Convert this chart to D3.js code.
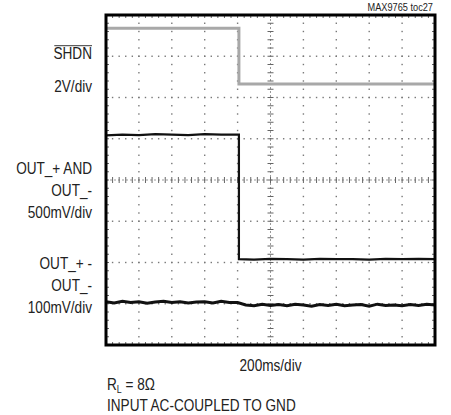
<!DOCTYPE html>
<html><head><meta charset="utf-8">
<script src="https://cdn.jsdelivr.net/npm/d3@7"></script>
<style>
body{margin:0;background:#fff;}
text{font-family:"Liberation Sans",Arial,Helvetica,sans-serif;fill:#222;}
</style></head><body>
<svg id="c" width="451" height="415"></svg>
<script>
// Values in scope divisions (x: 0..10, y: 0..8 from bottom)
const shdnT = [0, 4.04, 4.04, 10];
const shdnV = [7.68, 7.68, 6.33, 6.33];
const outT = [0, 0.5, 1, 1.5, 2, 2.5, 3, 3.5, 4.04, 4.04, 4.5, 5, 5.5, 6, 6.5, 7, 7.5, 8, 8.5, 9, 9.5, 10];
const outV = [5.08, 5.10, 5.09, 5.11, 5.10, 5.09, 5.11, 5.10, 5.10, 2.08, 2.07, 2.09, 2.08, 2.07, 2.09, 2.08, 2.08, 2.07, 2.09, 2.08, 2.09, 2.08];
const diffT = [0,0.25,0.5,0.75,1,1.25,1.5,1.75,2,2.25,2.5,2.75,3,3.25,3.5,3.75,4,4.25,4.5,4.75,5,5.25,5.5,5.75,6,6.25,6.5,6.75,7,7.25,7.5,7.75,8,8.25,8.5,8.75,9,9.25,9.5,9.75,10];
const diffV = [1.05,1.02,1.06,1.03,1.05,1.01,1.04,1.06,1.03,1.05,1.02,1.04,1.05,1.02,1.06,1.03,1.03,0.97,0.95,0.99,0.96,0.98,0.95,0.99,0.97,0.94,0.98,0.96,0.99,0.95,0.97,0.98,0.94,0.99,0.96,0.97,0.95,0.98,0.96,0.99,0.97];
const leftLabels = [["SHDN", 7.09, true], ["2V/div", 6.27], ["OUT_+ AND", 4.29], ["OUT_-", 3.76], ["500mV/div", 3.22], ["OUT_+ -", 1.99], ["OUT_-", 1.45], ["100mV/div", 0.92]];
const xLabel = "200ms/div";
const noteLines = ["INPUT AC-COUPLED TO GND"];
const figId = "MAX9765 toc27";

const svg = d3.select("#c");
const x = d3.scaleLinear().domain([0, 10]).range([106, 435]);
const y = d3.scaleLinear().domain([0, 8]).range([345, 15]);
const SX = 0.8;

function label(px, py, anchor, size) {
  return svg.append("g").attr("transform", `translate(${px},${py}) scale(${SX},1)`)
    .append("text").attr("text-anchor", anchor).attr("font-size", size).attr("dy", "0.36em");
}

// grid dots
const g = svg.append("g");
const minorX = d3.range(0, 10.001, 0.2);
const minorY = d3.range(0, 8.001, 0.2);
for (let i = 1; i < 10; i++) {
  if (i === 5) continue;
  g.selectAll(null).data(minorY).enter().append("rect")
    .attr("x", x(i) - 0.7).attr("y", d => y(d) - 0.7).attr("width", 1.4).attr("height", 1.4).attr("fill", "#777");
}
for (let j = 1; j < 8; j++) {
  if (j === 4) continue;
  g.selectAll(null).data(minorX).enter().append("rect")
    .attr("x", d => x(d) - 0.7).attr("y", y(j) - 0.7).attr("width", 1.4).attr("height", 1.4).attr("fill", "#777");
}
// center axes with ticks
g.append("line").attr("x1", x(5)).attr("x2", x(5)).attr("y1", y(0)).attr("y2", y(8)).attr("stroke", "#999").attr("stroke-width", 1).attr("stroke-dasharray", "2,2");
g.append("line").attr("x1", x(0)).attr("x2", x(10)).attr("y1", y(4)).attr("y2", y(4)).attr("stroke", "#999").attr("stroke-width", 1).attr("stroke-dasharray", "2,2");
g.selectAll(null).data(minorY).enter().append("line")
  .attr("x1", x(5) - 3).attr("x2", x(5) + 3).attr("y1", d => y(d)).attr("y2", d => y(d)).attr("stroke", "#666").attr("stroke-width", 1);
g.selectAll(null).data(minorX).enter().append("line")
  .attr("y1", y(4) - 3).attr("y2", y(4) + 3).attr("x1", d => x(d)).attr("x2", d => x(d)).attr("stroke", "#666").attr("stroke-width", 1);
// edge ticks
g.selectAll(null).data(minorX).enter().append("line")
  .attr("x1", d => x(d)).attr("x2", d => x(d)).attr("y1", y(8)).attr("y2", y(8) + 3).attr("stroke", "#666");
g.selectAll(null).data(minorX).enter().append("line")
  .attr("x1", d => x(d)).attr("x2", d => x(d)).attr("y1", y(0)).attr("y2", y(0) - 3).attr("stroke", "#666");
g.selectAll(null).data(minorY).enter().append("line")
  .attr("x1", x(0)).attr("x2", x(0) + 3).attr("y1", d => y(d)).attr("y2", d => y(d)).attr("stroke", "#666");
g.selectAll(null).data(minorY).enter().append("line")
  .attr("x1", x(10)).attr("x2", x(10) - 3).attr("y1", d => y(d)).attr("y2", d => y(d)).attr("stroke", "#666");

// traces
const line = d3.line().x(d => x(d[0])).y(d => y(d[1]));
svg.append("path").attr("d", line(d3.zip(shdnT, shdnV))).attr("fill", "none").attr("stroke", "#a8a8a8").attr("stroke-width", 3);
svg.append("path").attr("d", line(d3.zip(outT, outV))).attr("fill", "none").attr("stroke", "#111").attr("stroke-width", 2.2);
svg.append("path").attr("d", line(d3.zip(diffT, diffV))).attr("fill", "none").attr("stroke", "#111").attr("stroke-width", 3);

// frame
svg.append("rect").attr("x", x(0)).attr("y", y(8)).attr("width", x(10) - x(0)).attr("height", y(0) - y(8))
  .attr("fill", "none").attr("stroke", "#000").attr("stroke-width", 3);

// labels
const fs = 17;
leftLabels.forEach(([t, v, over]) => {
  const tx = label(92, y(v), "end", fs).text(t);
  if (over) {
    const b = tx.node().getBBox();
    tx.node().parentNode.appendChild(document.createElementNS("http://www.w3.org/2000/svg", "line"));
    d3.select(tx.node().parentNode).select("line")
      .attr("x1", b.x + 1).attr("x2", b.x + b.width).attr("y1", b.y + 2.5).attr("y2", b.y + 2.5)
      .attr("stroke", "#222").attr("stroke-width", 1);
  }
});
label(433, 7, "end", 11.5).text(figId);
label(x(5), 365, "middle", fs).text(xLabel);
const rl = label(107, 384, "start", fs);
rl.append("tspan").text("R");
rl.append("tspan").attr("font-size", 11).attr("dy", 3).text("L");
rl.append("tspan").attr("dy", -3).text(" = 8\u03A9");
noteLines.forEach((t, i) => {
  label(107, 405 + i * 20, "start", fs).text(t);
});
</script></body></html>
